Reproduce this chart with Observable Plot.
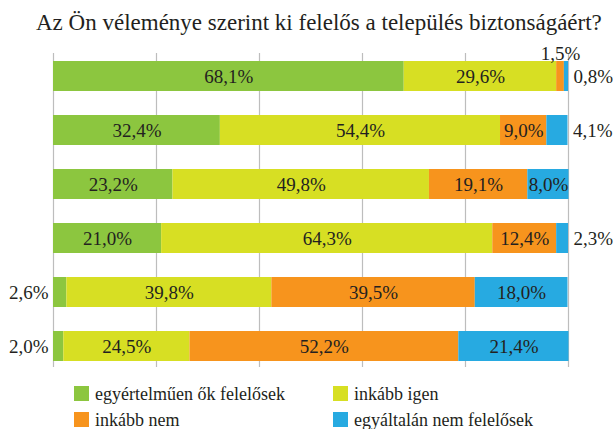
<!DOCTYPE html>
<html>
<head>
<meta charset="utf-8">
<script src="https://cdn.jsdelivr.net/npm/d3@7"></script>
<script src="https://cdn.jsdelivr.net/npm/@observablehq/plot@0.6"></script>
<style>
  html, body { margin: 0; padding: 0; background: #fff; }
  body { width: 613px; height: 429px; overflow: hidden; font-family: "Liberation Serif", "Times New Roman", serif; color: #231f20; }
  #title { position: relative; height: 42px; }
  #title span { position: absolute; left: 36px; top: 11px; font-size: 23px; line-height: 23px; white-space: nowrap; }
  #legend { position: relative; height: 58px; }
  .item { position: absolute; font-size: 18px; line-height: 18px; white-space: nowrap; }
  .sw { position: absolute; width: 15px; height: 15px; }
</style>
</head>
<body>
<div id="title"><span>Az Ön véleménye szerint ki felelős a település biztonságáért?</span></div>
<div id="chart"></div>
<div id="legend"></div>
<script>
const categories = ["1", "2", "3", "4", "5", "6"];
const series = ["egyértelműen ők felelősek", "inkább igen", "inkább nem", "egyáltalán nem felelősek"];
const egyertelmuen = [68.1, 32.4, 23.2, 21.0, 2.6, 2.0];
const inkabbIgen   = [29.6, 54.4, 49.8, 64.3, 39.8, 24.5];
const inkabbNem    = [1.5, 9.0, 19.1, 12.4, 39.5, 52.2];
const egyaltalan   = [0.8, 4.1, 8.0, 2.3, 18.0, 21.4];
const colors = ["#8cc63f", "#d7df23", "#f7941d", "#27aae1"];
const xTicks = [0, 20, 40, 60, 80, 100];

const valuesBySeries = [egyertelmuen, inkabbIgen, inkabbNem, egyaltalan];
const rows = [];
categories.forEach((c, i) => {
  let start = 0;
  valuesBySeries.forEach((vals, s) => {
    const v = vals[i];
    rows.push({cat: c, series: series[s], si: s, value: v, x1: start, x2: start + v,
               label: v.toFixed(1).replace(".", ",") + "%"});
    start += v;
  });
});

const inside = rows.filter(d => d.value >= 5);
const leftOut = rows.filter(d => d.value < 5 && d.si === 0);
const rightOut = rows.filter(d => d.value < 5 && d.si === series.length - 1);
const aboveOut = rows.filter(d => d.value < 5 && d.si > 0 && d.si < series.length - 1);

const font = {fontFamily: "Liberation Serif, Times New Roman, serif", fontSize: 19, fill: "#231f20"};

const chart = Plot.plot({
  width: 613,
  height: 329,
  marginTop: 11,
  marginBottom: 4,
  marginLeft: 53,
  marginRight: 45,
  style: {background: "transparent", overflow: "visible"},
  x: {domain: [0, 100], axis: null},
  y: {domain: categories, range: [18, 319], paddingInner: 0.4465, paddingOuter: 0, axis: null},
  color: {domain: series, range: colors},
  marks: [
    Plot.ruleX(xTicks, {stroke: "#bdbdbd", strokeWidth: 1.2}),
    Plot.barX(rows, {x1: "x1", x2: "x2", y: "cat", fill: "series"}),
    Plot.text(inside, {x: d => (d.x1 + d.x2) / 2, y: "cat", text: "label", ...font}),
    Plot.text(leftOut, {x: "x1", y: "cat", text: "label", textAnchor: "end", dx: -5, ...font}),
    Plot.text(rightOut, {x: "x2", y: "cat", text: "label", textAnchor: "start", dx: 5, ...font}),
    Plot.text(aboveOut, {x: d => (d.x1 + d.x2) / 2, y: "cat", text: "label", dy: -23, ...font})
  ]
});
document.getElementById("chart").appendChild(chart);

// legend (2 columns x 2 rows)
const legend = document.getElementById("legend");
const legendPos = [[74, 386 - 371], [333, 386 - 371], [74, 412 - 371], [333, 412 - 371]];
series.forEach((s, i) => {
  const [lx, ly] = legendPos[i];
  const sw = document.createElement("div");
  sw.className = "sw";
  sw.style.left = lx + "px";
  sw.style.top = ly + "px";
  sw.style.background = colors[i];
  legend.appendChild(sw);
  const t = document.createElement("div");
  t.className = "item";
  t.style.left = (lx + 21) + "px";
  t.style.top = (ly - 1) + "px";
  t.textContent = s;
  legend.appendChild(t);
});
</script>
</body>
</html>
